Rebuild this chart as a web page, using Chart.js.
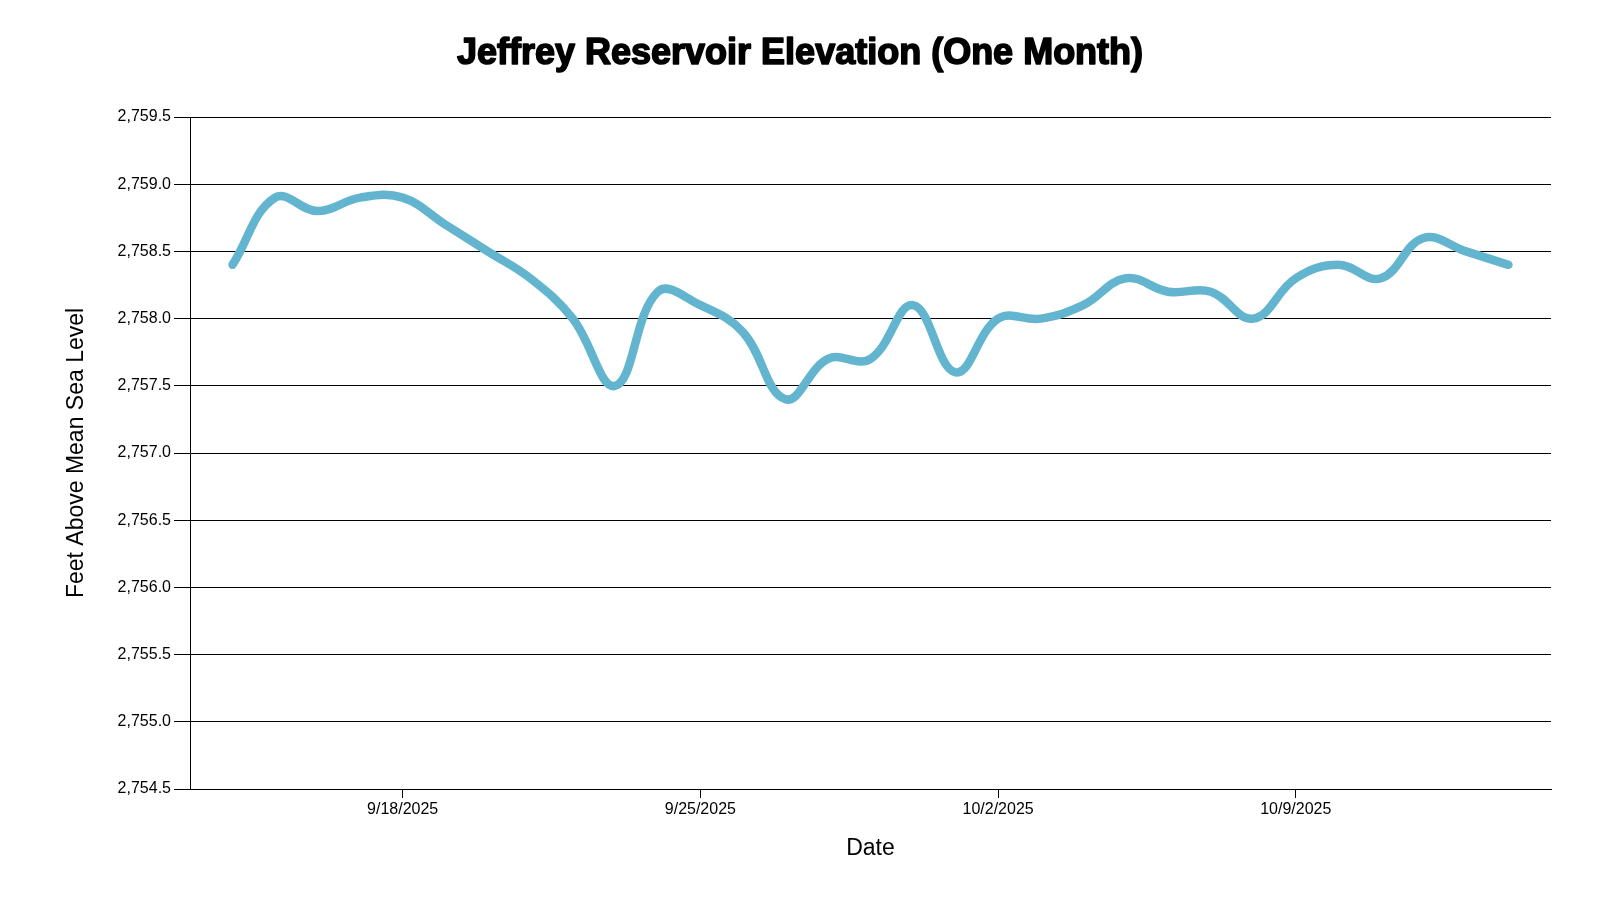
<!DOCTYPE html>
<html>
<head>
<meta charset="utf-8">
<title>Jeffrey Reservoir Elevation</title>
<script src="https://cdn.jsdelivr.net/npm/chart.js@4.4.1/dist/chart.umd.min.js"></script>
<style>
  html, body { margin: 0; padding: 0; background: #fff; }
  #wrap { width: 1600px; height: 900px; }
</style>
</head>
<body>
<div id="wrap"><canvas id="elevChart"></canvas></div>
<script>
// daily readings, 9/14/2025 .. 10/14/2025
const dates = [
    '9/14/2025', '9/15/2025', '9/16/2025', '9/17/2025', '9/18/2025', '9/19/2025', '9/20/2025',
    '9/21/2025', '9/22/2025', '9/23/2025', '9/24/2025', '9/25/2025', '9/26/2025', '9/27/2025',
    '9/28/2025', '9/29/2025', '9/30/2025', '10/1/2025', '10/2/2025', '10/3/2025', '10/4/2025',
    '10/5/2025', '10/6/2025', '10/7/2025', '10/8/2025', '10/9/2025', '10/10/2025', '10/11/2025',
    '10/12/2025', '10/13/2025', '10/14/2025'
];
const elevation = [
    2758.4, 2758.9, 2758.8, 2758.9, 2758.9, 2758.7, 2758.5,
    2758.3, 2758.0, 2757.5, 2758.2, 2758.1, 2757.9, 2757.4,
    2757.7, 2757.7, 2758.1, 2757.6, 2758.0, 2758.0, 2758.1,
    2758.3, 2758.2, 2758.2, 2758.0, 2758.3, 2758.4, 2758.3,
    2758.6, 2758.5, 2758.4
];
const xTickLabels = ['9/18/2025', '9/25/2025', '10/2/2025', '10/9/2025'];
const yMin = 2754.5, yMax = 2759.5, yStep = 0.5;
const chartTitle = 'Jeffrey Reservoir Elevation (One Month)';

// x axis runs one day either side of the data (9/13 .. 10/15)
const xMin = -1, xMax = dates.length;

const points = elevation.map((v, i) => ({ x: i, y: v }));
const fontFamily = '"Liberation Sans", Arial, sans-serif';

Chart.defaults.font.family = fontFamily;
Chart.defaults.color = '#000';

// title centred on the whole canvas, drawn a little heavier than plain bold
const pageTitle = {
    id: 'pageTitle',
    afterDraw(chart) {
        const ctx = chart.ctx;
        ctx.save();
        ctx.font = 'bold 36px ' + fontFamily;
        ctx.textAlign = 'center';
        ctx.textBaseline = 'middle';
        ctx.fillStyle = '#000';
        ctx.strokeStyle = '#000';
        ctx.lineWidth = 1.6;
        ctx.lineJoin = 'round';
        ctx.fillText(chartTitle, chart.width / 2, 54);
        ctx.strokeText(chartTitle, chart.width / 2, 54);
        ctx.restore();
    }
};

new Chart(document.getElementById('elevChart').getContext('2d'), {
    type: 'line',
    data: {
        datasets: [{
            label: 'Elevation',
            data: points,
            borderColor: '#63b5cf',
            borderWidth: 8.5,
            borderCapStyle: 'round',
            borderJoinStyle: 'round',
            tension: 0.4,
            pointRadius: 0,
            fill: false
        }]
    },
    plugins: [pageTitle],
    options: {
        responsive: true,
        maintainAspectRatio: false,
        animation: false,
        layout: { padding: { left: 0, right: 49, top: 117, bottom: 0 } },
        plugins: {
            legend: { display: false },
            tooltip: { enabled: false },
            title: { display: false }
        },
        scales: {
            x: {
                type: 'linear',
                min: xMin,
                max: xMax,
                afterBuildTicks: axis => {
                    axis.ticks = xTickLabels.map(lbl => ({ value: dates.indexOf(lbl) }));
                },
                afterFit: axis => { axis.height = 111; },
                ticks: {
                    autoSkip: false,
                    maxRotation: 0,
                    padding: 2,
                    font: { size: 16 },
                    color: '#000',
                    callback: value => dates[value]
                },
                grid: {
                    drawOnChartArea: false,
                    tickLength: 9,
                    color: '#000',
                    lineWidth: 1
                },
                border: { display: true, color: '#000', width: 1 },
                title: {
                    display: true,
                    text: 'Date',
                    font: { size: 23 },
                    color: '#000',
                    padding: { top: 0, bottom: 38 }
                }
            },
            y: {
                min: yMin,
                max: yMax,
                afterFit: axis => { axis.width = 190; },
                ticks: {
                    stepSize: yStep,
                    padding: 3,
                    font: { size: 16 },
                    color: '#000',
                    callback: value => value.toLocaleString('en-US', { minimumFractionDigits: 1, maximumFractionDigits: 1 })
                },
                grid: {
                    color: '#000',
                    lineWidth: 1,
                    tickLength: 16
                },
                border: { display: true, color: '#000', width: 1 },
                title: {
                    display: true,
                    text: 'Feet Above Mean Sea Level',
                    font: { size: 23 },
                    color: '#000',
                    padding: { top: 63, bottom: 0 }
                }
            }
        }
    }
});
</script>
</body>
</html>
